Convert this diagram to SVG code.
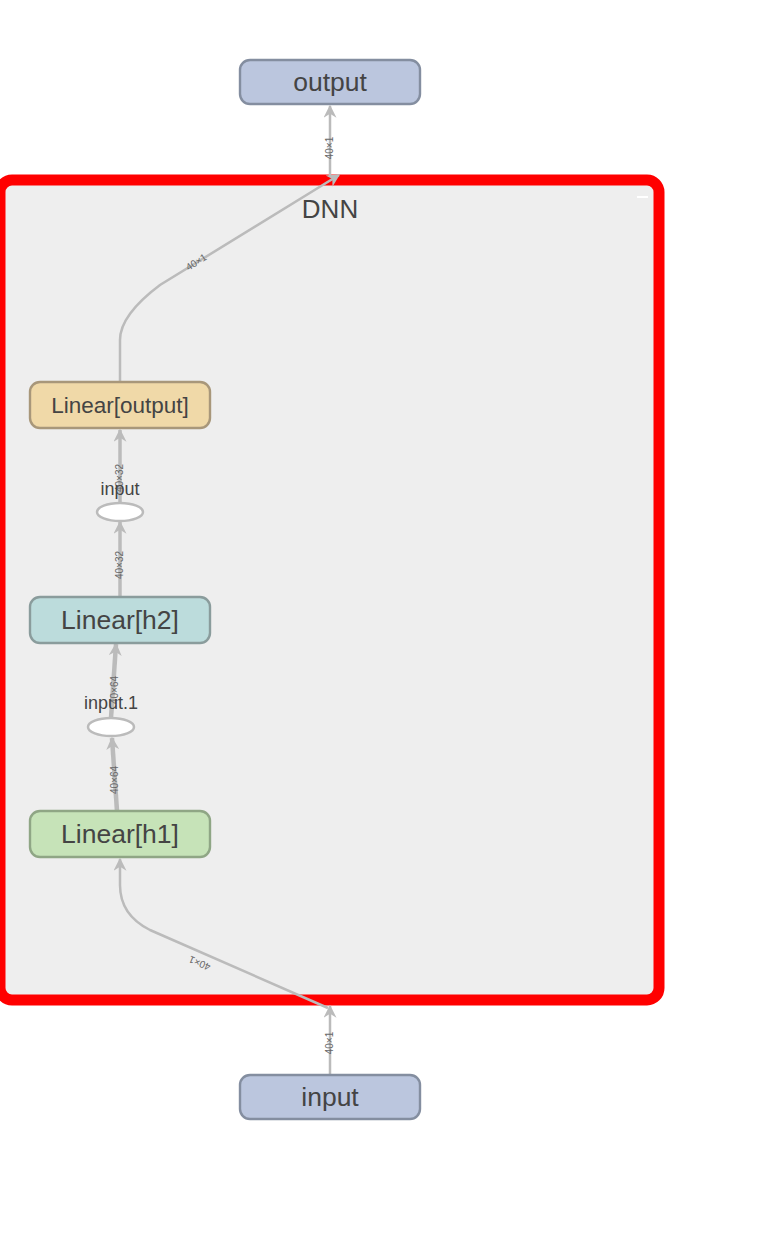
<svg xmlns="http://www.w3.org/2000/svg" width="780" height="1240" viewBox="0 0 780 1240">
<style>
.node rect{stroke-width:2.4}
.lbl{font-family:"Liberation Sans",Arial,sans-serif;fill:#444;text-anchor:middle}
.edge{fill:none;stroke:#bbb}
.elbl{font-family:"Liberation Sans",Arial,sans-serif;font-size:10px;fill:#666;text-anchor:middle}
</style>
<defs>
<marker id="arr" viewBox="0 0 10 10" refX="9" refY="5" markerUnits="userSpaceOnUse" markerWidth="15" markerHeight="13" orient="auto">
<path d="M0,0 L10,5 L0,10 L3,5 z" fill="#bbb"/>
</marker>
</defs>
<rect width="780" height="1240" fill="#fff"/>
<g id="DNN">
<rect x="0" y="180" width="659" height="820" rx="12" fill="#eee" stroke="#f00" stroke-width="11"/>
<text class="lbl" x="330" y="218" font-size="26">DNN</text>
<rect x="637" y="196" width="11" height="2" fill="#fff"/>
</g>
<g id="edges">
<path class="edge" stroke-width="2.5" d="M330,1075 L330,1006" marker-end="url(#arr)"/>
<text class="elbl" transform="translate(333,1043) rotate(-90)">40×1</text>
<path class="edge" stroke-width="2.5" d="M328,1008 L150,930 Q120,915 120,885 L120,859" marker-end="url(#arr)"/>
<text class="elbl" transform="translate(201,960) rotate(203)">40×1</text>
<path class="edge" stroke-width="4.5" d="M117,811 L112,738" marker-end="url(#arr)"/>
<text class="elbl" transform="translate(118,780) rotate(-90)">40×64</text>
<path class="edge" stroke-width="4.5" d="M111,718 L116,644" marker-end="url(#arr)"/>
<text class="elbl" transform="translate(118,690) rotate(-90)">40×64</text>
<path class="edge" stroke-width="3.5" d="M120,597 L120,522" marker-end="url(#arr)"/>
<text class="elbl" transform="translate(123,565) rotate(-90)">40×32</text>
<path class="edge" stroke-width="3.5" d="M120,503 L120,430" marker-end="url(#arr)"/>
<text class="elbl" transform="translate(123,478) rotate(-90)">40×32</text>
<path class="edge" stroke-width="2.5" d="M120,382 L120,340 Q120,315 160,285 L339,175" marker-end="url(#arr)"/>
<text class="elbl" transform="translate(198,265) rotate(-32)">40×1</text>
<path class="edge" stroke-width="2.5" d="M330,176 L330,106" marker-end="url(#arr)"/>
<text class="elbl" transform="translate(333,148) rotate(-90)">40×1</text>
</g>
<g id="output" class="node">
<rect x="240" y="60" width="180" height="44" rx="10" fill="#bbc6de" stroke="#848ea0"/>
<text class="lbl" x="330" y="91" font-size="26.5">output</text>
</g>
<g id="input" class="node">
<rect x="240" y="1075" width="180" height="44" rx="10" fill="#bbc6de" stroke="#848ea0"/>
<text class="lbl" x="330" y="1106" font-size="26.5">input</text>
</g>
<g id="Linear_output" class="node">
<rect x="30" y="382" width="180" height="46" rx="10" fill="#f0d9a8" stroke="#a8977a"/>
<text class="lbl" x="120" y="413" font-size="22.5">Linear[output]</text>
</g>
<g id="Linear_h2" class="node">
<rect x="30" y="597" width="180" height="46" rx="10" fill="#bcdcdc" stroke="#8a9c9c"/>
<text class="lbl" x="120" y="629" font-size="26.5">Linear[h2]</text>
</g>
<g id="Linear_h1" class="node">
<rect x="30" y="811" width="180" height="46" rx="10" fill="#c6e3b8" stroke="#8fa685"/>
<text class="lbl" x="120" y="843" font-size="26.5">Linear[h1]</text>
</g>
<g id="input_op">
<ellipse cx="120" cy="512" rx="23" ry="9" fill="#fff" stroke="#bbb" stroke-width="2.5"/>
<text class="lbl" x="120" y="495" font-size="18">input</text>
</g>
<g id="input_1">
<ellipse cx="111" cy="727" rx="23" ry="9" fill="#fff" stroke="#bbb" stroke-width="2.5"/>
<text class="lbl" x="111" y="709" font-size="18">input.1</text>
</g>
</svg>
